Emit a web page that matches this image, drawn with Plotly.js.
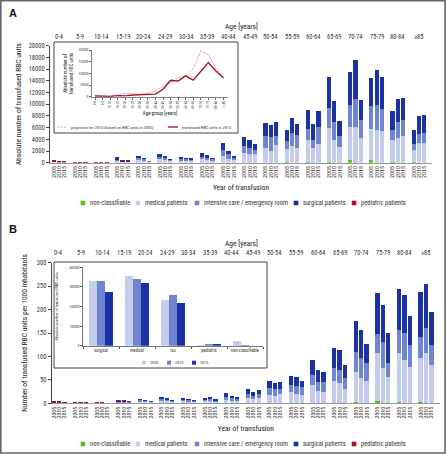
<!DOCTYPE html>
<html><head><meta charset="utf-8">
<script src="https://cdn.plot.ly/plotly-3.0.1.min.js"></script>
<style>html,body{margin:0;padding:0;background:#fff}#chart{width:447px;height:454px}</style>
</head><body><div id="chart"></div><script>
const FONT = '"Liberation Sans Narrow", "Arial Narrow", "Roboto Condensed", "DejaVu Sans Condensed", sans-serif';

// ---------- categories ----------
const ageGroups = ['0-4','5-9','10-14','15-19','20-24','24-29','30-34','35-39','40-44','45-49','50-54','55-59','60-64','65-69','70-74','75-79','80-84','\u226585'];
const years = ['2005','2010','2015'];
const seriesNames = ['non-classifiable','medical patients','intensive care / emergency room','surgical patients','pediatric patients'];
const seriesColors = ['#52c41f','#c4cced','#6f84d2','#1c31a2','#a8102c'];

// ---------- Panel A: absolute number of RBC units, per age group [2005, 2010, 2015] ----------
const absNonClass = [[0,0,0],[0,0,0],[0,0,0],[0,0,0],[0,0,0],[0,0,0],[0,0,0],[0,0,0],[0,0,0],[20,0,0],[30,0,0],[40,0,0],[80,0,0],[150,0,0],[500,0,0],[500,0,0],[100,0,0],[60,0,0]];
const absMedical = [[40,30,25],[10,10,10],[10,10,0],[250,80,80],[460,340,140],[590,480,280],[370,340,300],[640,520,340],[1080,680,500],[1630,1425,1425],[2470,2000,2960],[2300,2900,2450],[3740,2450,3135],[5780,3880,2680],[5600,6100,4160],[5310,5640,5415],[3720,4275,4560],[2160,3360,3360]];
const absIcu = [[30,20,15],[10,10,10],[0,0,0],[200,50,50],[280,210,80],[370,300,170],[230,215,185],[400,330,215],[1140,740,250],[1140,1140,684],[2000,2390,1600],[1370,2170,2280],[1940,1370,2960],[3480,3080,1880],[3820,4850,3080],[3930,4160,3820],[1820,2680,2680],[1030,1600,1710]];
const absSurgical = [[40,30,25],[10,10,10],[10,10,10],[300,100,100],[400,305,120],[520,420,235],[310,300,255],[555,460,300],[1180,630,330],[1660,1385,1090],[2340,2000,2340],[1820,2620,1940],[3190,2740,2790],[5240,3650,2510],[5640,6670,3530],[4790,6040,5360],[3140,3880,3760],[2340,3020,3020]];
const absPediatric = [[350,260,220],[140,130,120],[90,90,80],[160,220,230],[0,0,0],[0,0,0],[0,0,0],[0,0,0],[0,0,0],[0,0,0],[0,0,0],[0,0,0],[0,0,0],[0,0,0],[0,0,0],[0,0,0],[0,0,0],[0,0,0]];

// ---------- Panel B: RBC units per 1000 inhabitants ----------
const rateNonClass = [[0,0,0],[0,0,0],[0,0,0],[0,0,0],[0,0,0],[0,0,0],[0,0,0],[0,0,0],[0,0,0],[0,0,0],[0,0,0],[0,0,0],[0.5,0,0],[1,0,0],[3.5,0,0],[5,0,0],[2,0,0],[2,0,0]];
const rateMedical = [[0.5,0.4,0.3],[0.1,0.1,0.1],[0.1,0.1,0.1],[1.5,1.5,1.0],[3.7,3.1,2.0],[5.4,4.6,2.6],[4.3,3.7,2.8],[4.8,5.7,3.4],[7.1,5.7,4.6],[10.7,9.3,12.1],[17.8,16.4,19.2],[24.2,20.6,18.5],[38.7,27.1,24.2],[46.7,42.7,30.6],[64.1,53.4,48.4],[102,75,57],[105,92.5,78],[94,107,82]];
const rateIcu = [[0.3,0.2,0.2],[0.1,0.1,0.1],[0.1,0.1,0.1],[1.0,1.0,0.8],[2.3,2.0,1.2],[3.4,2.8,1.6],[2.7,2.3,1.8],[3.0,3.5,2.1],[7.1,5.0,3.6],[9.2,7.1,7.1],[14.2,13.5,11.4],[15.0,17.1,15.7],[21.3,19.2,20.7],[27.1,28.5,22.8],[42.4,42.6,36.6],[41,56.6,28],[49.6,58.4,46.5],[46,54.5,42.5]];
const rateSurgical = [[0.5,0.4,0.3],[0.1,0.1,0.1],[0.1,0.1,0.1],[1.5,1.5,1.2],[3.3,2.7,1.8],[4.7,4.0,2.2],[3.7,3.3,2.5],[4.3,5.0,3.0],[7.2,5.7,4.6],[10.0,8.5,9.3],[15.7,12.8,15.0],[19.2,18.5,13.5],[32.1,25.6,22.7],[42.7,42.8,27.8],[65.8,60.6,41.7],[87,77.4,64.5],[86.9,79.8,62],[95.8,92.5,71.2]];
const ratePediatric = [[4.4,3.3,2.8],[1.8,1.8,1.7],[1.8,1.8,1.1],[2.4,2.4,2.0],[0,0,0],[0,0,0],[0,0,0],[0,0,0],[0,0,0],[0,0,0],[0,0,0],[0,0,0],[0,0,0],[0,0,0],[0,0,0],[0,0,0],[0,0,0],[0,0,0]];

// ---------- Inset A: line chart ----------
const insetAges = ['0-4','5-9','10-14','15-19','20-24','25-29','30-34','35-39','40-44','45-49','50-54','55-59','60-64','65-69','70-74','75-79','80-84','>=85'];
const projection2015 = [500,200,150,800,1400,1200,1000,1300,2600,4500,7200,7900,9000,12000,19700,18000,12200,8000];
const transfused2015 = [300,150,100,450,350,700,750,850,1100,3200,6900,6700,8900,7100,10800,14600,11000,8100];
const lineNames = ['projection for 2015 (based on RBC units in 2005)','transfused RBC units in 2015'];
const lineColors = ['#e0909c','#a3172f'];

// ---------- Inset B: grouped bars ----------
const patientGroups = ['surgical','medical','icu','pediatric','non-classifiable'];
const units2005 = [33200,35600,23200,500,2300];
const units2010 = [33000,34000,26000,800,300];
const units2015 = [27200,32000,21600,1100,100];
const yearColors = ['#c4cced','#6f84d2','#1c31a2'];

// ---------- helpers ----------
const W = 447, H = 454;
const px = v => v / W;          // pixel x -> paper
const py = v => 1 - v / H;      // pixel y -> paper
const flat = a => a.flat();
const slots = [], slotText = [];
ageGroups.forEach((g, i) => years.forEach((y, j) => { slots.push(i * 4 + j); slotText.push(y); }));
const groupCenters = ageGroups.map((g, i) => i * 4 + 1);

const data = [];
const absSeries = [absNonClass, absMedical, absIcu, absSurgical, absPediatric];
const rateSeries = [rateNonClass, rateMedical, rateIcu, rateSurgical, ratePediatric];
absSeries.forEach((s, k) => data.push({type:'bar', x:slots, y:flat(s), xaxis:'x', yaxis:'y', width:0.8,
  marker:{color:seriesColors[k], line:{width:0}}, name:seriesNames[k], showlegend:false}));
rateSeries.forEach((s, k) => data.push({type:'bar', x:slots, y:flat(s), xaxis:'x4', yaxis:'y4', width:0.8,
  marker:{color:seriesColors[k], line:{width:0}}, name:seriesNames[k], showlegend:false}));
// inset A lines
[projection2015, transfused2015].forEach((s, k) => data.push({type:'scatter', mode:'lines', x:insetAges.map((a,i)=>i), y:s,
  xaxis:'x3', yaxis:'y3', line:{color:lineColors[k], width: k ? 1.4 : 0.8, dash: k ? 'solid' : '3px,1px'}, showlegend:false, name:lineNames[k]}));
// inset B grouped bars
[units2005, units2010, units2015].forEach((s, k) => data.push({type:'bar', x:patientGroups, y:s, xaxis:'x6', yaxis:'y6',
  offsetgroup:years[k], marker:{color:yearColors[k], line:{width:0}}, name:years[k], showlegend:false}));

const tickFont = {family:FONT, size:6.5, color:'#333'};
const tinyFont = {family:FONT, size:4, color:'#333'};
const titleFont = {family:FONT, size:7.5, color:'#222'};

const layout = {
  width:W, height:H, margin:{l:0,r:0,t:0,b:0}, paper_bgcolor:'#fff', plot_bgcolor:'rgba(0,0,0,0)',
  barmode:'stack', bargap:0.36, bargroupgap:0, showlegend:false, font:{family:FONT},
  // Panel A main
  xaxis:{domain:[px(50),px(432)], range:[-0.7,71.46], anchor:'y', tickvals:slots, ticktext:slotText, tickangle:-90,
    tickfont:{family:FONT,size:6,color:'#333'}, ticks:'', showline:true, linecolor:'#999', linewidth:1, showgrid:false, zeroline:false,
    title:{text:'Year of transfusion', font:titleFont, standoff:7}},
  yaxis:{domain:[py(162.7),py(45.7)], range:[0,20000], anchor:'x', dtick:2000, tickformat:'d', tickfont:tickFont,
    ticks:'outside', ticklen:3, tickcolor:'#444', showline:true, linecolor:'#444', linewidth:1, showgrid:false, zeroline:false,
    title:{text:'Absolute number of transfused RBC units', font:titleFont, standoff:6}},
  // Inset A
  xaxis3:{domain:[px(92),px(228)], range:[-0.4,17.6], anchor:'y3', tickvals:insetAges.map((a,i)=>i), ticktext:insetAges, tickangle:-90,
    tickfont:{family:FONT,size:3.5,color:'#333'}, ticks:'outside', ticklen:2, tickcolor:'#666', showline:true, linecolor:'#666', linewidth:0.8,
    showgrid:false, zeroline:false, title:{text:'Age group [years]', font:{family:FONT,size:5,color:'#222'}, standoff:3}},
  yaxis3:{domain:[py(96.7),py(50)], range:[0,20000], anchor:'x3', dtick:5000, tickformat:'d', tickfont:tinyFont,
    ticks:'outside', ticklen:2, tickcolor:'#666', showline:true, linecolor:'#666', linewidth:0.8, showgrid:false, zeroline:false,
    title:{text:'Absolute number of<br>transfused RBC units', font:{family:FONT,size:5,color:'#222'}, standoff:4}},
  // Panel B main
  xaxis4:{domain:[px(51.7),px(440)], range:[-0.35,71.6], anchor:'y4', tickvals:slots, ticktext:slotText, tickangle:-90,
    tickfont:{family:FONT,size:6,color:'#333'}, ticks:'', showline:true, linecolor:'#999', linewidth:1, showgrid:false, zeroline:false,
    title:{text:'Year of transfusion', font:titleFont, standoff:8}},
  yaxis4:{domain:[py(403.3),py(262.7)], range:[0,300], anchor:'x4', dtick:50, tickfont:tickFont,
    ticks:'outside', ticklen:3, tickcolor:'#444', showline:true, linecolor:'#444', linewidth:1, showgrid:false, zeroline:false,
    title:{text:'Number of transfused RBC units per 1000 inhabitants', font:titleFont, standoff:8}},
  // Inset B
  xaxis6:{domain:[px(83),px(263)], anchor:'y6', type:'category', tickangle:0, tickfont:{family:FONT,size:4.5,color:'#333'}, tickson:'boundaries',
    ticks:'outside', ticklen:2, tickcolor:'#555', showline:true, linecolor:'#555', linewidth:0.8, showgrid:false, zeroline:false},
  yaxis6:{domain:[py(345.7),py(267.3)], range:[0,40000], anchor:'x6', dtick:10000, tickformat:'d', tickfont:tinyFont,
    ticks:'outside', ticklen:2, tickcolor:'#555', showline:true, linecolor:'#555', linewidth:0.8, showgrid:false, zeroline:false,
    title:{text:'Absolute number of transfused RBC units', font:{family:FONT,size:4.2,color:'#222'}, standoff:10}},
  shapes:[], annotations:[]
};

// frame and inset boxes
layout.shapes.push({type:'rect', xref:'paper', yref:'paper', x0:px(0.8), x1:px(445), y0:py(453), y1:py(0.8), line:{color:'#666', width:1.6}, layer:'above'});
layout.shapes.push({type:'rect', xref:'paper', yref:'paper', x0:px(54), x1:px(238), y0:py(133), y1:py(42), line:{color:'#444', width:1}, fillcolor:'#fff', layer:'below'});
layout.shapes.push({type:'rect', xref:'paper', yref:'paper', x0:px(54), x1:px(267), y0:py(368), y1:py(262), line:{color:'#444', width:1}, fillcolor:'#fff', layer:'below'});

// panel letters
layout.annotations.push({xref:'paper', yref:'paper', x:px(7), y:py(13.5), xanchor:'left', yanchor:'middle', text:'<b>A</b>', showarrow:false, font:{family:'Liberation Sans, Arial, sans-serif', size:11, color:'#111'}});
layout.annotations.push({xref:'paper', yref:'paper', x:px(7), y:py(229), xanchor:'left', yanchor:'middle', text:'<b>B</b>', showarrow:false, font:{family:'Liberation Sans, Arial, sans-serif', size:11, color:'#111'}});

// age group labels above main plots
[['x', 37, 26], ['x4', 253, 243]].forEach(([xr, yLab, yTitle]) => {
  ageGroups.forEach((g, i) => layout.annotations.push({xref:xr, yref:'paper', x:groupCenters[i], y:py(yLab), text:g, showarrow:false,
    xanchor:'center', yanchor:'middle', font:{family:FONT, size:6.5, color:'#333'}}));
  layout.annotations.push({xref:'paper', yref:'paper', x:px(242), y:py(yTitle), text:'Age [years]', showarrow:false,
    xanchor:'center', yanchor:'middle', font:titleFont});
});

// legends for the main plots (bottom rows)
const legendX = [83, 138, 197, 296, 354];
[203, 444].forEach(yL => {
  seriesNames.forEach((n, k) => {
    layout.shapes.push({type:'rect', xref:'paper', yref:'paper', x0:px(legendX[k]-2.3), x1:px(legendX[k]+2.3), y0:py(yL+2.3), y1:py(yL-2.3),
      fillcolor:seriesColors[k], line:{width:0}});
    layout.annotations.push({xref:'paper', yref:'paper', x:px(legendX[k]+5), y:py(yL), text:n, showarrow:false, xanchor:'left', yanchor:'middle',
      font:{family:FONT, size:6.5, color:'#333'}});
  });
});

// inset A legend
const lineLegX = [[58,67],[168,178]];
lineNames.forEach((n, k) => {
  layout.shapes.push({type:'line', xref:'paper', yref:'paper', x0:px(lineLegX[k][0]), x1:px(lineLegX[k][1]), y0:py(127), y1:py(127),
    line:{color:lineColors[k], width: k ? 1.4 : 0.8, dash: k ? 'solid' : '2px,1px'}});
  layout.annotations.push({xref:'paper', yref:'paper', x:px(lineLegX[k][1]+2), y:py(127), text:n, showarrow:false, xanchor:'left', yanchor:'middle',
    font:{family:FONT, size:4.3, color:'#333'}});
});

// inset B legend
const yearLegX = [144, 169, 194];
years.forEach((y, k) => {
  layout.shapes.push({type:'rect', xref:'paper', yref:'paper', x0:px(yearLegX[k]-2), x1:px(yearLegX[k]+2), y0:py(364.7), y1:py(360.7),
    fillcolor:yearColors[k], line:{width:0}});
  layout.annotations.push({xref:'paper', yref:'paper', x:px(yearLegX[k]+4), y:py(362.7), text:y, showarrow:false, xanchor:'left', yanchor:'middle',
    font:{family:FONT, size:4.3, color:'#333'}});
});

Plotly.newPlot('chart', data, layout, {staticPlot:true, displayModeBar:false});
</script></body></html>
